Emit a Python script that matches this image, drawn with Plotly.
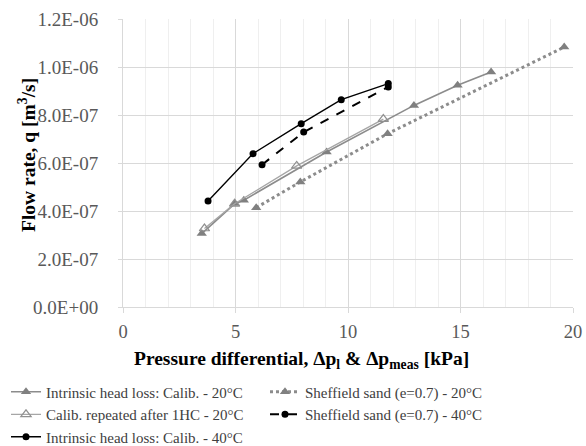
import plotly.graph_objects as go

# --- data ---
calib20_x = [3.50, 4.97, 5.37, 9.05, 12.93, 14.87, 16.36]
calib20_q = [3.06e-7, 4.31e-7, 4.45e-7, 6.46e-7, 8.40e-7, 9.24e-7, 9.79e-7]

repeat20_x = [3.62, 4.96, 7.72, 11.57]
repeat20_q = [3.27e-7, 4.30e-7, 5.88e-7, 7.83e-7]

calib40_x = [3.78, 5.78, 7.92, 9.70, 11.79]
calib40_q = [4.42e-7, 6.39e-7, 7.64e-7, 8.64e-7, 9.31e-7]

sheff20_x = [5.92, 7.88, 11.76, 19.61]
sheff20_q = [4.14e-7, 5.21e-7, 7.22e-7, 10.83e-7]

sheff40_x = [6.18, 8.03, 11.79]
sheff40_q = [5.93e-7, 7.29e-7, 9.17e-7]

y_tickvals = [0, 2e-7, 4e-7, 6e-7, 8e-7, 1e-6, 1.2e-6]
y_ticktext = ["0.0E+00", "2.0E-07", "4.0E-07", "6.0E-07", "8.0E-07", "1.0E-06", "1.2E-06"]
x_tickvals = [0, 5, 10, 15, 20]

FONT = "Liberation Serif"

fig = go.Figure()

fig.add_trace(go.Scatter(
    x=calib20_x, y=calib20_q, mode="lines+markers",
    name="Intrinsic head loss: Calib. - 20°C",
    line=dict(color="#8c8c8c", width=1.6),
    marker=dict(symbol="triangle-up", size=9, color="#808080"),
    legend="legend"))
fig.add_trace(go.Scatter(
    x=repeat20_x, y=repeat20_q, mode="lines+markers",
    name="Calib. repeated after 1HC - 20°C",
    line=dict(color="#a6a6a6", width=1.3),
    marker=dict(symbol="triangle-up-open", size=9, color="#909090",
                line=dict(width=1.2)),
    legend="legend"))
fig.add_trace(go.Scatter(
    x=sheff20_x, y=sheff20_q, mode="lines+markers",
    name="Sheffield sand (e=0.7) - 20°C",
    line=dict(color="#8c8c8c", width=3, dash="dot"),
    marker=dict(symbol="triangle-up", size=9, color="#808080"),
    legend="legend2"))
fig.add_trace(go.Scatter(
    x=calib40_x, y=calib40_q, mode="lines+markers",
    name="Intrinsic head loss: Calib. - 40°C",
    line=dict(color="#000000", width=1.4),
    marker=dict(symbol="circle", size=7, color="#000000"),
    legend="legend"))
fig.add_trace(go.Scatter(
    x=sheff40_x, y=sheff40_q, mode="lines+markers",
    name="Sheffield sand (e=0.7) - 40°C",
    line=dict(color="#000000", width=2, dash="dash"),
    marker=dict(symbol="circle", size=7, color="#000000"),
    legend="legend2"))

legend_common = dict(
    orientation="h", xref="container", yref="container",
    xanchor="left", yanchor="top", itemwidth=30, traceorder="normal",
    entrywidth=240, entrywidthmode="pixels",
    font=dict(family=FONT, size=15, color="#404040"),
    bgcolor="rgba(0,0,0,0)",
)

fig.update_layout(
    width=586, height=446,
    margin=dict(l=123, r=13, t=19, b=139, autoexpand=False),
    paper_bgcolor="white", plot_bgcolor="white",
    font=dict(family=FONT, size=15, color="#404040"),
    showlegend=True,
    legend=dict(x=6 / 586, y=0.158, **legend_common),
    legend2=dict(x=265 / 586, y=0.158, **legend_common),
)

fig.update_xaxes(
    range=[0, 20], tickvals=x_tickvals,
    showgrid=True, gridcolor="#d9d9d9", gridwidth=1,
    minor=dict(dtick=1, showgrid=True, gridcolor="#efefef", gridwidth=1),
    showline=True, linecolor="#d9d9d9", linewidth=1,
    ticks="outside", ticklen=5, tickcolor="#d9d9d9",
    ticklabelstandoff=3,
    zeroline=False,
    tickfont=dict(family=FONT, size=18.5, color="#595959"),
)
fig.update_yaxes(
    range=[0, 1.2e-6], tickvals=y_tickvals, ticktext=y_ticktext,
    showgrid=True, gridcolor="#d9d9d9", gridwidth=1,
    showline=True, linecolor="#d9d9d9", linewidth=1,
    ticks="outside", ticklen=4, tickcolor="#d9d9d9",
    ticklabelstandoff=16,
    zeroline=False,
    tickfont=dict(family=FONT, size=19, color="#595959"),
)

fig.add_annotation(
    text="<b>Pressure differential, Δp<sub>l</sub> & Δp<sub>meas</sub> [kPa]</b>",
    xref="paper", yref="paper", x=(301 - 123) / 450, y=-0.135,
    xanchor="center", yanchor="top", showarrow=False,
    font=dict(family=FONT, size=19.5, color="#000000"))
fig.add_annotation(
    text="<b>Flow rate, q [m<sup>3</sup>/s]</b>",
    xref="paper", yref="paper", x=-(123 - 27) / 450, y=(307 - 155) / 288,
    xanchor="center", yanchor="middle", showarrow=False,
    font=dict(family=FONT, size=19.5, color="#000000"), textangle=-90)

fig.write_html("out.html", config={"displayModeBar": False},
               post_script="document.body.style.margin='0';document.body.style.overflow='hidden';")
